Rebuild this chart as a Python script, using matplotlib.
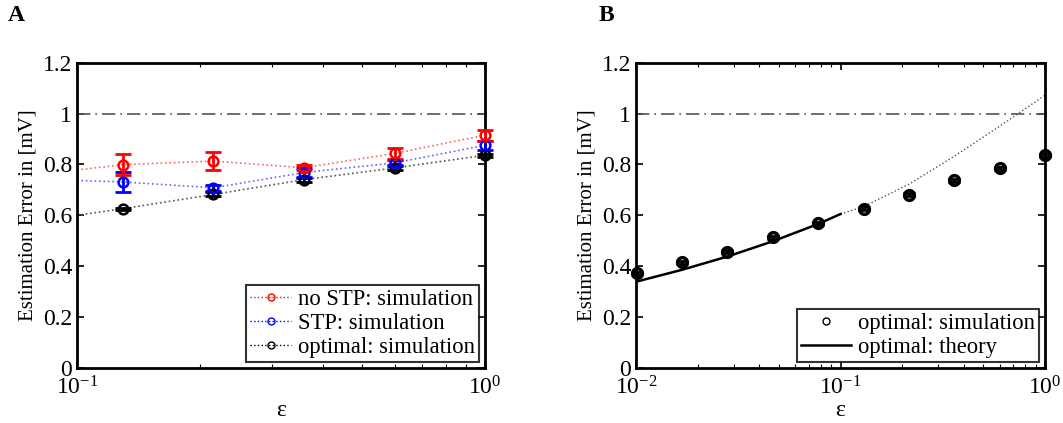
import matplotlib
matplotlib.use('Agg')
import matplotlib.pyplot as plt
from matplotlib.ticker import LogLocator, NullFormatter, FixedLocator

plt.rcParams['font.family'] = ['Liberation Serif', 'DejaVu Serif']
plt.rcParams['mathtext.fontset'] = 'stix'
plt.rcParams['font.size'] = 14

# panel A: simulation results (epsilon = 0.6^k)
eps_a = [0.1296, 0.216, 0.36, 0.6, 1.0]
nostp_y = [0.799, 0.813, 0.787, 0.843, 0.915]
nostp_err = [0.040, 0.035, 0.010, 0.020, 0.022]
stp_y = [0.731, 0.708, 0.768, 0.806, 0.875]
stp_err = [0.040, 0.013, 0.018, 0.010, 0.018]
opt_y = [0.626, 0.682, 0.740, 0.786, 0.836]
opt_err = [0.004, 0.008, 0.008, 0.008, 0.005]

# dotted guide lines in A (start at the left axis edge)
eps_a_line = [0.1, 0.1296, 0.216, 0.36, 0.6, 1.0]
nostp_line = [0.778, 0.799, 0.813, 0.787, 0.843, 0.915]
stp_line = [0.737, 0.731, 0.708, 0.768, 0.806, 0.875]
opt_line = [0.600, 0.626, 0.682, 0.740, 0.786, 0.836]

# panel B
eps_b = [0.01008, 0.0168, 0.028, 0.0467, 0.0778, 0.1296, 0.216, 0.36, 0.6, 1.0]
sim_b = [0.372, 0.415, 0.457, 0.514, 0.569, 0.626, 0.681, 0.737, 0.785, 0.835]
sim_b_err = [0.006, 0.006, 0.006, 0.006, 0.006, 0.005, 0.006, 0.006, 0.006, 0.005]
theory_x = [0.01, 0.0168, 0.028, 0.0467, 0.0778, 0.1]
theory_y = [0.339, 0.386, 0.438, 0.498, 0.566, 0.605]
theory_ext_x = [0.1, 0.1296, 0.216, 0.36, 0.6, 1.0]
theory_ext_y = [0.605, 0.634, 0.722, 0.832, 0.950, 1.072]

fig = plt.figure(figsize=(10.63, 4.23), dpi=100)
axA = fig.add_axes([0.0724, 0.1300, 0.3840, 0.7220])
axB = fig.add_axes([0.5983, 0.1300, 0.3848, 0.7220])


def style_axis(ax, xlim):
    ax.set_xscale('log')
    ax.set_xlim(*xlim)
    ax.set_ylim(0, 1.2)
    ax.yaxis.set_major_locator(FixedLocator([0, 0.2, 0.4, 0.6, 0.8, 1.0, 1.2]))
    ax.set_yticklabels(['0', '0.2', '0.4', '0.6', '0.8', '1', '1.2'])
    ax.xaxis.set_major_locator(LogLocator(base=10))
    ax.xaxis.set_minor_locator(LogLocator(base=10, subs=range(2, 10)))
    ax.xaxis.set_minor_formatter(NullFormatter())
    ax.tick_params(which='both', direction='in', top=True, right=True)
    ax.tick_params(which='major', length=5, width=1.2, labelsize=17)
    ax.tick_params(which='minor', length=3, width=0.8)
    ax.tick_params(axis='x', pad=6)
    for s in ax.spines.values():
        s.set_linewidth(2)
    ax.axhline(1.0, color='#555555', lw=1.2, ls=(0, (8, 3, 1, 3)))
    ax.set_xlabel('ε', fontsize=17, labelpad=0)
    ax.set_ylabel('Estimation Error in [mV]', fontsize=15)


style_axis(axA, (0.1, 1.0))
axA.plot(eps_a_line, nostp_line, ls=':', color='#ff6666', lw=1.2)
axA.plot(eps_a_line, stp_line, ls=':', color='#6666ff', lw=1.2)
axA.plot(eps_a_line, opt_line, ls=':', color='#555555', lw=1.2)
for y, e, c in [(opt_y, opt_err, 'black'), (stp_y, stp_err, 'blue'), (nostp_y, nostp_err, 'red')]:
    axA.errorbar(eps_a, y, yerr=e, fmt='none', ecolor=c, elinewidth=2,
                 capsize=6, capthick=2, clip_on=False, zorder=3)
    axA.plot(eps_a, y, 'o', mfc='none', mec=c, mew=1.8, ms=7, clip_on=False, zorder=4)

hA = [
    axA.plot([], [], ls=':', color='red', marker='o', mfc='none', mec='red', ms=5, lw=1)[0],
    axA.plot([], [], ls=':', color='blue', marker='o', mfc='none', mec='blue', ms=5, lw=1)[0],
    axA.plot([], [], ls=':', color='black', marker='o', mfc='none', mec='black', ms=5, lw=1)[0],
]
legA = axA.legend(hA, ['no STP: simulation', 'STP: simulation', 'optimal: simulation'],
                  loc='lower right', fontsize=16.3, frameon=True, fancybox=False,
                  edgecolor='black', handlelength=1.8, handletextpad=0.3,
                  borderpad=0.2, labelspacing=0.12, borderaxespad=0.25)
legA.get_frame().set_linewidth(1.5)

style_axis(axB, (0.01, 1.0))
axB.plot(theory_ext_x, theory_ext_y, ls=':', color='#555555', lw=1.0)
axB.plot(theory_x, theory_y, color='black', lw=1.8)
axB.errorbar(eps_b, sim_b, yerr=sim_b_err, fmt='none', ecolor='black', elinewidth=2,
             capsize=4, capthick=2, clip_on=False, zorder=3)
axB.plot(eps_b, sim_b, 'o', mfc='none', mec='black', mew=2.5, ms=7, clip_on=False, zorder=4)

hB = [
    axB.plot([], [], ls='none', marker='o', mfc='none', mec='black', ms=5)[0],
    axB.plot([], [], color='black', lw=1.8)[0],
]
legB = axB.legend(hB, ['optimal: simulation', 'optimal: theory'],
                  loc='lower right', fontsize=16.3, frameon=True, fancybox=False,
                  edgecolor='black', handlelength=2.2, handletextpad=0.3,
                  borderpad=0.2, labelspacing=0.12, borderaxespad=0.25)
legB.get_frame().set_linewidth(1.5)

fig.text(0.007, 0.963, 'A', fontsize=17, fontweight='bold', va='center')
fig.text(0.563, 0.963, 'B', fontsize=17, fontweight='bold', va='center')

fig.savefig('out.png', dpi=100)
